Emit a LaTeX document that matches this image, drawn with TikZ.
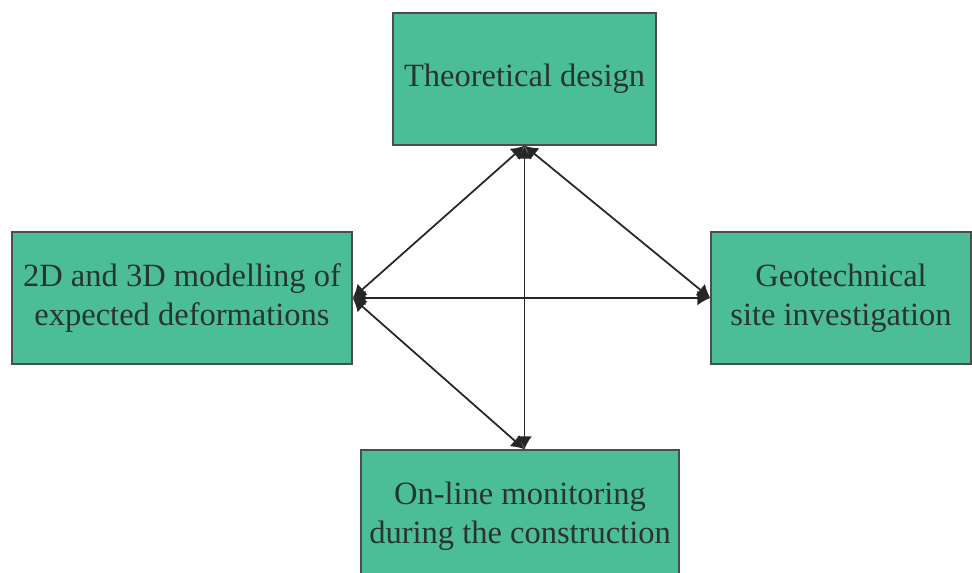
\documentclass[tikz,border=0pt]{standalone}
\usepackage{fontspec}
\setmainfont{Liberation Serif}
\usepackage{tikz}
\usetikzlibrary{positioning, arrows.meta}

\begin{document}
\begin{tikzpicture}[
  x=0.02cm, y=-0.02cm,
  stage/.style={
    draw=black!70,
    line width=0.8pt,
    fill=boxcol,
    text=textcol,
    minimum height=2.64cm,
    font=\fontsize{18.5}{22.5}\selectfont,
    align=center,
    inner sep=2pt
  },
  link/.style={
    draw=black!85,
    line width=1pt,
    {Latex[length=0.26cm,width=0.3cm]}-{Latex[length=0.26cm,width=0.3cm]}
  }
]

\definecolor{boxcol}{RGB}{75,190,152}
\definecolor{textcol}{RGB}{40,52,46}

\useasboundingbox (0,0) rectangle (972,572);
\clip (0,0) rectangle (972,572);

\node[stage, minimum width=5.26cm] (design) at (524.5,79)
  {\raisebox{-0.08cm}{Theoretical design}};
\node[stage, minimum width=6.8cm] (model) at (182,298)
  {2D and 3D modelling of\\expected deformations};
\node[stage, minimum width=5.2cm] (site) at (841,298)
  {Geotechnical\\site investigation};
\node[stage, minimum width=6.36cm] (monitor) at (520,516)
  {On-line monitoring\\during the construction};

\coordinate (monTop) at (design.south |- monitor.north);

\draw[link] (design.south) -- (model.east);
\draw[link] (design.south) -- (site.west);
\draw[link] (design.south) -- (monTop);
\draw[link] (model.east) -- (site.west);
\draw[link] (model.east) -- (monTop);

\end{tikzpicture}
\end{document}
